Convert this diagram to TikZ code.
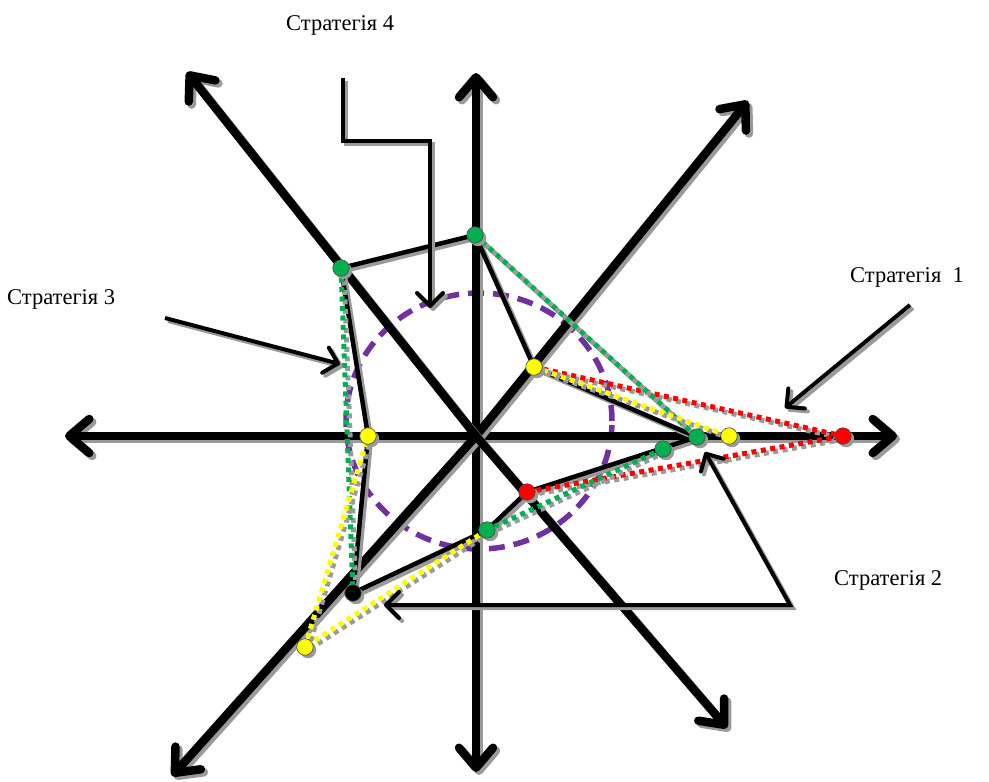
\documentclass[tikz,border=0pt]{standalone}
\usepackage{fontspec}
\setmainfont{Liberation Serif}
\usetikzlibrary{arrows.meta}
\definecolor{ggreen}{HTML}{00B050}
\definecolor{gyellow}{HTML}{FFFF00}
\definecolor{gred}{HTML}{FF0000}
\definecolor{gpurple}{HTML}{7030A0}
\definecolor{shadowgray}{HTML}{9A9A9A}
\newcommand\shdraw[2]{%
  \begin{scope}[transform canvas={shift={(3pt,-3pt)}}]
    \draw[#1,draw=shadowgray] #2;
  \end{scope}
  \draw[#1] #2;}
\begin{document}
\begin{tikzpicture}[x=1pt,y=-1pt,
  axisline/.style={line width=8.5pt,line cap=round,-{Straight Barb[length=20pt,width=34pt,round]}},
  polyline/.style={line width=4.5pt,line cap=round,line join=round},
  dotline/.style={line width=5pt,dash pattern=on 5pt off 4.5pt},
  annot/.style={line width=4pt,line join=miter},
  annotarrow/.style={annot,-{Straight Barb[length=13pt,width=26pt,round]}},
  dotnode/.style={circle,inner sep=0pt,minimum size=16.5pt,draw=black!70,line width=0.6pt},
  dotshadow/.style={circle,inner sep=0pt,minimum size=16.5pt,fill=shadowgray},
  lbl/.style={font=\fontsize{22.5}{26}\selectfont,anchor=base west,inner sep=0pt}]
\useasboundingbox (0,0) rectangle (989,782);
% centre and axis tips
\coordinate (O) at (476,436);
\coordinate (tE) at (897,436);
\coordinate (tW) at (65,436);
\coordinate (tN) at (476,73);
\coordinate (tS) at (476,772);
\coordinate (tNE) at (748,101);
\coordinate (tSW) at (172,776);
\coordinate (tNW) at (187,72);
\coordinate (tSE) at (727,728);
% points
\coordinate (gNW) at (341,268);
\coordinate (gT) at (475,235);
\coordinate (yNE) at (534,367);
\coordinate (gE) at (697,437);
\coordinate (gs) at (663,449);
\coordinate (rSE) at (527,492);
\coordinate (gS) at (487,530);
\coordinate (bSW) at (353,593);
\coordinate (yW) at (368,436);
\coordinate (yE) at (729,436);
\coordinate (rE) at (843,436);
\coordinate (ySW) at (305,647);
% purple dashed circle
\draw[gpurple,line width=5.5pt,dash pattern=on 16pt off 9pt] (479,421) ellipse (133pt and 128pt);
% axes
\foreach \t in {tE,tW,tN,tS,tNE,tSW,tNW,tSE}{\shdraw{axisline}{(O) -- (\t)}}
% solid polygon
\shdraw{polyline}{(gNW) -- (gT) -- (yNE) -- (gE) -- (rSE) -- (gS) -- (bSW) -- (yW) -- cycle}
% dotted strategy lines
\shdraw{dotline,gred}{(yNE) -- (rE)}
\shdraw{dotline,gred}{(rSE) -- (rE)}
\shdraw{dotline,ggreen}{(gT) -- (gE)}
\shdraw{dotline,ggreen}{(gs) -- (gS)}
\shdraw{dotline,ggreen}{(gNW) -- (bSW)}
\shdraw{dotline,gyellow}{(yNE) -- (yE)}
\shdraw{dotline,gyellow}{(gS) -- (ySW)}
\shdraw{dotline,gyellow}{(ySW) -- (yW)}
% annotation arrows
\coordinate (a4s) at (343,78);
\coordinate (a4a) at (343,141);
\coordinate (a4b) at (430,141);
\coordinate (a4t) at (430,308);
\shdraw{annotarrow}{(a4s) -- (a4a) -- (a4b) -- (a4t)}
\coordinate (a3s) at (165,318);
\coordinate (a3t) at (340,364);
\shdraw{annotarrow}{(a3s) -- (a3t)}
\coordinate (a1s) at (910,305);
\coordinate (a1t) at (785,408);
\shdraw{annotarrow}{(a1s) -- (a1t)}
\coordinate (a2c) at (790,605);
\coordinate (a2t) at (705,452);
\coordinate (a2l) at (384,605);
\shdraw{annot,{Straight Barb[length=13pt,width=26pt,round]}-{Straight Barb[length=13pt,width=26pt,round]}}{(a2t) -- (a2c) -- (a2l)}
% dots
\foreach \p/\c in {gNW/ggreen,gT/ggreen,yNE/gyellow,gE/ggreen,gs/ggreen,rSE/gred,gS/ggreen,bSW/black,yW/gyellow,yE/gyellow,rE/gred,ySW/gyellow}{
  \node[dotshadow] (s\p) at ([shift={(3,3)}]\p) {};
  \node[dotnode,fill=\c] (n\p) at (\p) {};
}
% labels
\node[lbl] (L4) at (286,30) {Стратегія 4};
\node[lbl] (L3) at (7,304) {Стратегія 3};
\node[lbl] (L1) at (850,282) {Стратегія\ \ 1};
\node[lbl] (L2) at (834,585) {Стратегія 2};
\end{tikzpicture}
\end{document}
